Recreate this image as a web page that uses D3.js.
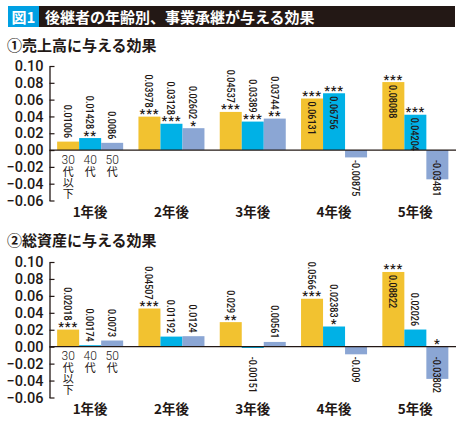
<!DOCTYPE html>
<html><head><meta charset="utf-8">
<script src="https://cdn.jsdelivr.net/npm/d3@7"></script>
<style>
body{margin:0;background:#fff;}
text{font-family:"Noto Sans CJK JP","Noto Sans",sans-serif;fill:#231815;}
</style></head><body>
<script>
// ---------- data ----------
const headerTag = "図1";
const headerTitle = "後継者の年齢別、事業承継が与える効果";
const years = ["1年後","2年後","3年後","4年後","5年後"];
const ageGroups = ["30代以下","40代","50代"];
const yTicks = [-0.06,-0.04,-0.02,0.00,0.02,0.04,0.06,0.08,0.10];

const salesTitle = "①売上高に与える効果";
const sales30 = [0.01006, 0.03978, 0.04537, 0.06131, 0.08088];
const sales40 = [0.01428, 0.03128, 0.03389, 0.06756, 0.04204];
const sales50 = [0.0086, 0.02602, 0.03744, -0.00875, -0.03481];
const salesStars30 = ["", "***", "***", "***", "***"];
const salesStars40 = ["**", "***", "***", "***", "***"];
const salesStars50 = ["", "*", "**", "", ""];

const assetTitle = "②総資産に与える効果";
const asset30 = [0.02018, 0.04507, 0.029, 0.0566, 0.08822];
const asset40 = [0.00174, 0.01192, -0.00151, 0.02383, 0.02026];
const asset50 = [0.0073, 0.0124, 0.00561, -0.009, -0.03802];
const assetStars30 = ["***", "***", "**", "***", "***"];
const assetStars40 = ["", "", "", "*", ""];
const assetStars50 = ["", "", "", "", "*"];

// layout: which value labels sit inside the bar
const salesInside = [[false,false,false,true,true],[false,false,false,true,true],[false,false,false,false,false]];
const assetInside = [[false,false,false,false,true],[false,false,false,false,false],[false,false,false,false,false]];

const colors = ["#f2c230","#00b1e6","#8ba6d4"];
const ink = "#231815";

// ---------- drawing ----------
const W = 461, H = 421;
const svg = d3.select("body").append("svg").attr("width", W).attr("height", H);

svg.append("rect").attr("x",8).attr("y",6).attr("width",447).attr("height",21).attr("fill",ink);
svg.append("rect").attr("x",8).attr("y",6).attr("width",31).attr("height",21).attr("fill","#00a0e3");
svg.append("text").attr("x",23.5).attr("y",22.5).attr("text-anchor","middle")
  .style("fill","#fff").style("font-weight",700).style("font-size","15px").text(headerTag);
svg.append("text").attr("x",45).attr("y",22.5)
  .style("fill","#fff").style("font-weight",700).style("font-size","15px").text(headerTitle);

function drawPanel(cfg){
  const g = svg.append("g");
  g.append("text").attr("x",7).attr("y",cfg.titleY).style("font-weight",700).style("font-size","15px").text(cfg.title);

  const y = d3.scaleLinear().domain([-0.06,0.10]).range(cfg.yRange);
  const x0 = d3.scaleBand().domain(years).range([49.5,456]).paddingInner(0.188).paddingOuter(0.094);
  const x1 = d3.scaleBand().domain(d3.range(ageGroups.length)).range([0,x0.bandwidth()]);

  const yAxis = d3.axisLeft(y).tickValues(yTicks).tickFormat(d3.format(".2f"))
    .tickSizeInner(-5).tickSizeOuter(0).tickPadding(6);
  const ax = g.append("g").attr("transform","translate(49.5,0)").call(yAxis);
  ax.select(".domain").attr("stroke",ink).attr("stroke-width",1.3);
  ax.selectAll(".tick line").attr("stroke",ink).attr("stroke-width",1.2);
  ax.selectAll(".tick text").style("font-family","Roboto,sans-serif").style("font-weight",500)
    .style("font-size","14.5px").style("fill",ink);

  const y0 = y(0);
  cfg.series.forEach((vals,i)=>{
    vals.forEach((v,j)=>{
      const bx = x0(years[j]) + x1(i), bw = x1.bandwidth();
      g.append("rect").attr("x",bx).attr("width",bw)
        .attr("y",Math.min(y(v),y0)).attr("height",Math.abs(y(v)-y0)).attr("fill",colors[i]);
    });
  });
  // zero line
  g.append("line").attr("x1",49.5).attr("x2",456).attr("y1",y0).attr("y2",y0)
    .attr("stroke",ink).attr("stroke-width",1.3);

  cfg.series.forEach((vals,i)=>{
    vals.forEach((v,j)=>{
      const cx = x0(years[j]) + x1(i) + x1.bandwidth()/2;
      const st = cfg.stars[i][j];
      const top = v >= 0 ? y(v) : y0;
      if (st) {
        g.append("text").attr("x",cx).attr("y",top+1.5).attr("text-anchor","middle")
          .style("font-family","Roboto,sans-serif").style("font-weight",500).style("font-size","13px")
          .style("letter-spacing","0.8px").text(st);
      }
      let ty, anchor;
      if (v < 0) { ty = y0 + 10; anchor = "start"; }
      else if (cfg.inside[i][j]) { ty = y(v) + 3; anchor = "start"; }
      else { ty = y(v) - (st ? 9 : 3.5); anchor = "end"; }
      g.append("text").attr("transform",`translate(${cx},${ty}) rotate(90) scale(0.82,1)`)
        .attr("text-anchor",anchor).attr("dy","0.36em")
        .style("font-family","Roboto,sans-serif").style("font-weight",500).style("font-size","11px").text(String(v));
    });
  });

  // age sub-labels under first group: digits horizontal, kanji stacked vertically
  ageGroups.forEach((a,i)=>{
    const cx = x0(years[0]) + x1(i) + x1.bandwidth()/2;
    const m = a.match(/^(\d+)(.*)$/);
    g.append("text").attr("x",cx).attr("y",y0 + 13.5).attr("text-anchor","middle")
      .style("font-family","Roboto,sans-serif").style("font-weight",300).style("font-size","12px").text(m[1]);
    g.append("text").attr("x",cx).attr("y",y0 + 16).attr("text-anchor","start")
      .style("writing-mode","vertical-rl").style("font-size","11px").style("font-weight",400)
      .text(m[2]);
  });

  // category labels
  years.forEach(yr=>{
    g.append("text").attr("x",x0(yr)+x0.bandwidth()/2).attr("y",cfg.yRange[0]+16.5)
      .attr("text-anchor","middle").style("font-weight",700).style("font-size","13.5px").text(yr);
  });
}

drawPanel({title:salesTitle, titleY:51, yRange:[200.5,66],
  series:[sales30,sales40,sales50], stars:[salesStars30,salesStars40,salesStars50], inside:salesInside});
drawPanel({title:assetTitle, titleY:245.5, yRange:[397.5,262],
  series:[asset30,asset40,asset50], stars:[assetStars30,assetStars40,assetStars50], inside:assetInside});
</script>
</body></html>
